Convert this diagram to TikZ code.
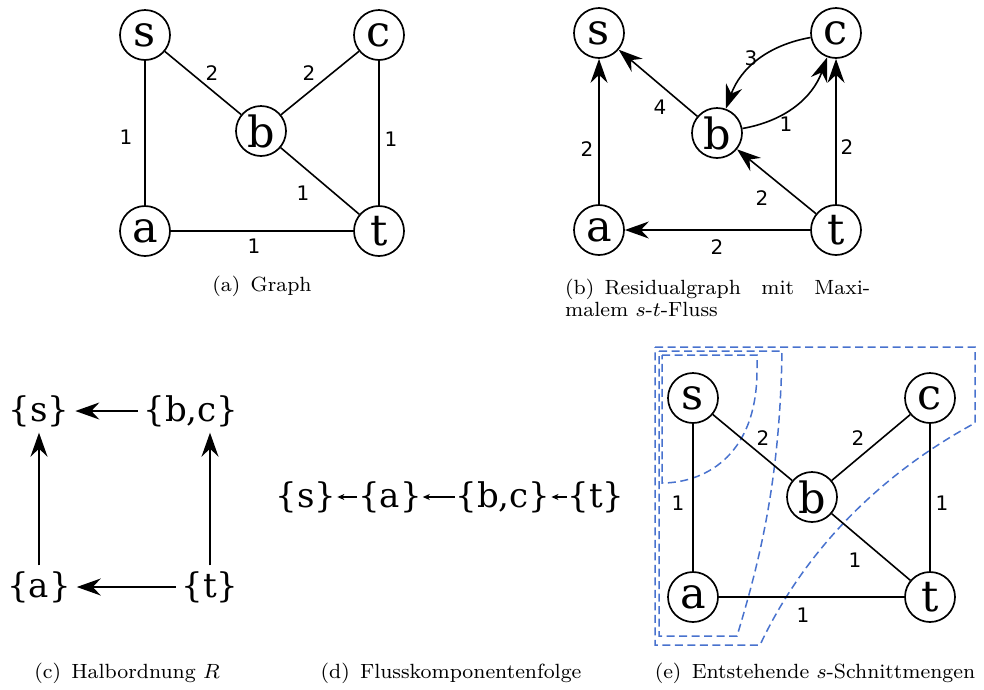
\documentclass[tikz,border=0pt]{standalone}
\usepackage{fontspec}
\usepackage{graphicx}
\newfontfamily\nodefont{DejaVu Serif}
\newfontfamily\labfont{DejaVu Sans}
\usetikzlibrary{arrows.meta}
\definecolor{cutblue}{RGB}{72,114,206}
\begin{document}
\begin{tikzpicture}[x=1pt,y=-1pt,
  vert/.style={circle,draw,fill=white,line width=1.7pt,minimum size=50pt,inner sep=0pt,font=\nodefont\fontsize{43}{43}\selectfont},
  edge/.style={line width=1.6pt},
  wt/.style={font=\labfont\fontsize{20}{20}\selectfont,inner sep=0pt},
  arr/.style={line width=1.6pt,-{Stealth[length=24pt,width=17pt,inset=8pt]}},
  setnode/.style={font=\nodefont\fontsize{34}{34}\selectfont,inner sep=0pt,outer sep=6pt},
  seqnode/.style={font=\nodefont\fontsize{34}{34}\selectfont,inner sep=0pt,outer sep=1pt},
  sarr/.style={line width=1.1pt,-{Stealth[length=7pt,width=6pt,inset=2pt]}},
  cut/.style={cutblue,line width=1.5pt,dash pattern=on 8pt off 4.5pt},
  captext/.style={inner sep=0pt}]
\useasboundingbox (0,0) rectangle (984,689);

% ---------- (a) Graph ----------
\node[vert] (as) at (145,35) {s};
\node[vert] (ac) at (379,35) {c};
\node[vert] (ab) at (261,131) {b};
\node[vert] (aa) at (145,231) {a};
\node[vert] (at) at (379,231) {t};
\draw[edge] (as) -- (ab);
\draw[edge] (ab) -- (ac);
\draw[edge] (as) -- (aa);
\draw[edge] (ac) -- (at);
\draw[edge] (ab) -- (at);
\draw[edge] (aa) -- (at);
\node[wt] (aw1) at (212,73) {2};
\node[wt] (aw2) at (309,73) {2};
\node[wt] (aw3) at (126,137) {1};
\node[wt] (aw4) at (391,139) {1};
\node[wt] (aw5) at (303,193) {1};
\node[wt] (aw6) at (254,246) {1};
\node[captext] (capa) at (262,286) {\scalebox{2.57}{\fontsize{8}{9}\selectfont (a)\hspace{4pt}Graph}};

% ---------- (b) Residualgraph ----------
\node[vert] (bs) at (599,33) {s};
\node[vert] (bc) at (836,33) {c};
\node[vert] (bb) at (717,133) {b};
\node[vert] (ba) at (599,230) {a};
\node[vert] (bt) at (836,230) {t};
\draw[arr] (ba) -- (bs);
\draw[arr] (bb) -- (bs);
\draw[arr] (bc) to[bend right=30] (bb);
\draw[arr] (bb) to[bend right=30] (bc);
\draw[arr] (bt) -- (bc);
\draw[arr] (bt) -- (bb);
\draw[arr] (bt) -- (ba);
\node[wt] (bw1) at (751,58) {3};
\node[wt] (bw2) at (660,107) {4};
\node[wt] (bw3) at (786,124) {1};
\node[wt] (bw4) at (587,149) {2};
\node[wt] (bw5) at (847,147) {2};
\node[wt] (bw6) at (762,198) {2};
\node[wt] (bw7) at (717,247) {2};
\node[captext,anchor=west] (capb) at (565,298) {\scalebox{2.57}{\parbox{118.7pt}{\fontsize{8}{8.6}\selectfont (b)\hspace{4pt}Residualgraph mit Maxi-\linebreak malem $s$-$t$-Fluss}}};

% ---------- (c) Halbordnung ----------
\node[setnode] (cs) at (39,411) {\{s\}};
\node[setnode] (cbc) at (191,411) {\{b,c\}};
\node[setnode] (ca) at (39,587) {\{a\}};
\node[setnode] (ct) at (210,587) {\{t\}};
\draw[arr] (cbc) -- (cs);
\draw[arr] (ca) -- (cs);
\draw[arr] (ct) -- (ct |- cbc.south);
\draw[arr] (ct) -- (ca);
\node[captext] (capc) at (127,673) {\scalebox{2.57}{\fontsize{8}{9}\selectfont (c)\hspace{4pt}Halbordnung $R$}};

% ---------- (d) Flusskomponentenfolge ----------
\node[seqnode] (ds) at (306,497) {\{s\}};
\node[seqnode] (da) at (390,497) {\{a\}};
\node[seqnode] (dbc) at (503,497) {\{b,c\}};
\node[seqnode] (dt) at (596,497) {\{t\}};
\draw[sarr] (da) -- (ds);
\draw[sarr] (dbc) -- (da);
\draw[sarr] (dt) -- (dbc);
\node[captext] (capd) at (451,673) {\scalebox{2.57}{\fontsize{8}{9}\selectfont (d)\hspace{4pt}Flusskomponentenfolge}};

% ---------- (e) Schnittmengen ----------
\draw[cut] (655,347) -- (975,347) -- (975,423)
  .. controls (870,480) and (800,560) .. (760,645) -- (655,645) -- cycle;
\draw[cut] (659,351) -- (782,351)
  .. controls (780,480) and (760,560) .. (737,636) -- (659,636) -- cycle;
\draw[cut] (662,355) -- (757,355) -- (757,370)
  .. controls (757,460) and (700,483) .. (662,483) -- cycle;
\node[vert] (es) at (693,398) {s};
\node[vert] (ec) at (930,398) {c};
\node[vert] (eb) at (812,497) {b};
\node[vert] (ea) at (693,597) {a};
\node[vert] (et) at (930,597) {t};
\draw[edge] (es) -- (eb);
\draw[edge] (eb) -- (ec);
\draw[edge] (es) -- (ea);
\draw[edge] (ec) -- (et);
\draw[edge] (eb) -- (et);
\draw[edge] (ea) -- (et);
\node[wt] (ew1) at (763,438) {2};
\node[wt] (ew2) at (858,438) {2};
\node[wt] (ew3) at (678,503) {1};
\node[wt] (ew4) at (942,503) {1};
\node[wt] (ew5) at (855,560) {1};
\node[wt] (ew6) at (803,615) {1};
\node[captext] (cape) at (815,673) {\scalebox{2.57}{\fontsize{8}{9}\selectfont (e)\hspace{4pt}Entstehende $s$-Schnittmengen}};
\end{tikzpicture}
\end{document}
